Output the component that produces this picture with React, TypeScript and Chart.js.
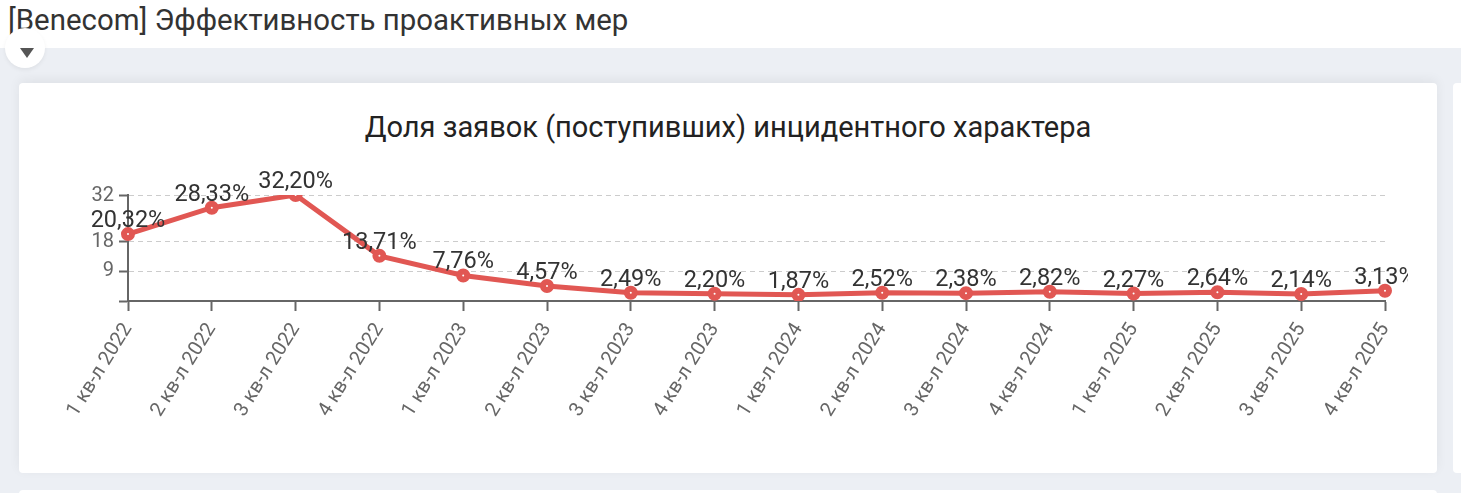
import React, { useEffect, useRef } from "react";
import { Chart, registerables } from "chart.js";

Chart.register(...registerables);

const quarters = [
  "1 кв-л 2022",
  "2 кв-л 2022",
  "3 кв-л 2022",
  "4 кв-л 2022",
  "1 кв-л 2023",
  "2 кв-л 2023",
  "3 кв-л 2023",
  "4 кв-л 2023",
  "1 кв-л 2024",
  "2 кв-л 2024",
  "3 кв-л 2024",
  "4 кв-л 2024",
  "1 кв-л 2025",
  "2 кв-л 2025",
  "3 кв-л 2025",
  "4 кв-л 2025",
];
const incidentShare = [
  20.32, 28.33, 32.2, 13.71, 7.76, 4.57, 2.49, 2.2, 1.87, 2.52, 2.38, 2.82,
  2.27, 2.64, 2.14, 3.13,
];
const yTicks = [0, 9, 18, 32];

const pageTitle = "[Benecom] Эффективность проактивных мер";
const chartTitle = "Доля заявок (поступивших) инцидентного характера";

const FONT = "Roboto, 'Noto Sans', sans-serif";
const RED = "#e15753";

const fmt = (v: number) => v.toFixed(2).replace(".", ",") + "%";

// values above points, like datalabels would do
const valueLabels = {
  id: "valueLabels",
  afterDatasetsDraw(chart: any) {
    const ctx = chart.ctx;
    ctx.save();
    ctx.font = `23.5px ${FONT}`;
    ctx.fillStyle = "#333";
    ctx.textAlign = "center";
    ctx.textBaseline = "alphabetic";
    chart.getDatasetMeta(0).data.forEach((pt: any, i: number) => {
      ctx.fillText(fmt(incidentShare[i]), pt.x, pt.y - 7);
    });
    ctx.restore();
  },
};

const IncidentChart: React.FC = () => {
  const canvasRef = useRef<HTMLCanvasElement | null>(null);
  const chartRef = useRef<Chart | null>(null);

  useEffect(() => {
    if (!canvasRef.current) return;
    if (chartRef.current) chartRef.current.destroy();

    chartRef.current = new Chart(canvasRef.current, {
      type: "line",
      data: {
        labels: quarters,
        datasets: [
          {
            data: incidentShare,
            borderColor: RED,
            borderWidth: 5,
            pointRadius: 4,
            pointBorderWidth: 6,
            pointBackgroundColor: "#fff",
            pointBorderColor: RED,
            tension: 0,
          },
        ],
      },
      options: {
        animation: false,
        responsive: true,
        maintainAspectRatio: false,
        layout: { padding: { left: 59, right: 23, top: 45, bottom: 0 } },
        plugins: {
          legend: { display: false },
          tooltip: { enabled: false },
        },
        scales: {
          x: {
            offset: false,
            afterFit: (scale: any) => {
              scale.height = 159;
              scale.paddingLeft = 0;
              scale.paddingRight = 0;
            },
            grid: {
              drawOnChartArea: false,
              tickLength: 10,
              tickColor: "#666",
              tickWidth: 2,
            },
            border: { color: "#666", width: 2 },
            ticks: {
              color: "#666",
              autoSkip: false,
              minRotation: 58,
              maxRotation: 58,
              padding: 8,
              font: { family: FONT, size: 20 },
            },
          },
          y: {
            min: 0,
            max: 32.2,
            afterFit: (scale: any) => {
              scale.width = 50;
            },
            afterBuildTicks: (scale: any) => {
              scale.ticks = yTicks.map((v) => ({ value: v }));
            },
            grid: {
              color: "#ccc",
              lineWidth: 1,
              tickLength: 9,
              tickColor: "#666",
              tickWidth: 2,
            },
            border: { color: "#666", width: 2, dash: [5, 4] },
            ticks: {
              color: "#666",
              padding: 5,
              font: { family: FONT, size: 20 },
              callback: (v: any) => (v === 0 ? "" : String(v)),
            },
          },
        },
      },
      plugins: [valueLabels],
    });

    return () => {
      if (chartRef.current) {
        chartRef.current.destroy();
        chartRef.current = null;
      }
    };
  }, []);

  return (
    <div
      style={{
        position: "absolute",
        left: 0,
        top: 67,
        width: 1389,
        height: 310,
      }}
    >
      <canvas ref={canvasRef} />
    </div>
  );
};

const App: React.FC = () => {
  return (
    <div
      style={{
        position: "fixed",
        inset: 0,
        background: "#eceff4",
        fontFamily: FONT,
        overflow: "hidden",
      }}
    >
      <div
        style={{
          position: "absolute",
          left: 0,
          top: 0,
          right: 0,
          height: 48,
          background: "#fff",
        }}
      >
        <div
          style={{
            position: "absolute",
            left: 8,
            top: 3,
            fontSize: 29.4,
            lineHeight: "34px",
            color: "#333",
            whiteSpace: "nowrap",
          }}
        >
          {pageTitle}
        </div>
      </div>
      <div
        style={{
          position: "absolute",
          left: 5,
          top: 28,
          width: 40,
          height: 40,
          borderRadius: "50%",
          background: "#fff",
          boxShadow: "0 2px 4px rgba(0,0,0,0.06)",
        }}
      >
        <div
          style={{
            position: "absolute",
            left: 15,
            top: 20,
            width: 0,
            height: 0,
            borderLeft: "7px solid transparent",
            borderRight: "7px solid transparent",
            borderTop: "10px solid #555",
          }}
        />
      </div>
      <div
        style={{
          position: "absolute",
          left: 19,
          top: 83,
          width: 1418,
          height: 390,
          background: "#fff",
          borderRadius: 4,
          boxShadow: "0 -3px 12px rgba(0,0,0,0.06)",
        }}
      >
        <div
          style={{
            position: "absolute",
            left: 0,
            right: 0,
            top: 27,
            textAlign: "center",
            fontSize: 29,
            lineHeight: "34px",
            color: "#222",
            whiteSpace: "nowrap",
          }}
        >
          {chartTitle}
        </div>
        <IncidentChart />
      </div>
      <div
        style={{
          position: "absolute",
          left: 1453,
          top: 83,
          width: 200,
          height: 390,
          background: "#fff",
          borderRadius: 4,
        }}
      />
      <div
        style={{
          position: "absolute",
          left: 19,
          top: 490,
          width: 1418,
          height: 60,
          background: "#fff",
          borderRadius: 4,
        }}
      />
    </div>
  );
};

export default App;
